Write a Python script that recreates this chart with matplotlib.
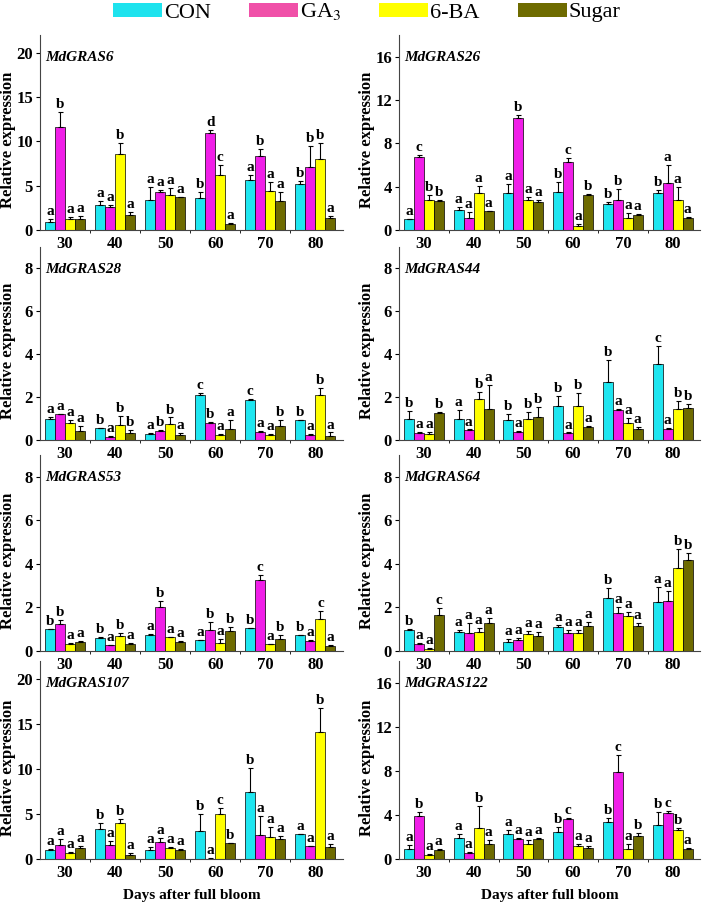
import numpy as np
import matplotlib.pyplot as plt
from matplotlib.patches import Patch

days = ['30', '40', '50', '60', '70', '80']
treatments = ['CON', 'GA$_3$', '6-BA', 'Sugar']
bar_colors = ['#1EE6F0', '#F01EE8', '#FFFF00', '#6E6B00']
legend_colors = ['#1EE3EE', '#F050A8', '#FFFF00', '#6E6B00']

# mean values, rows = day, columns = CON, GA3, 6-BA, Sugar
gras6 = [[0.87, 11.57, 1.25, 1.25], [2.85, 2.55, 8.6, 1.67], [3.42, 4.3, 4.0, 3.68],
         [3.6, 10.9, 6.2, 0.7], [5.6, 8.4, 4.4, 3.3], [5.24, 7.13, 7.97, 1.4]]
gras6_err = [[0.33, 1.79, 0.2, 0.35], [0.45, 0.3, 1.2, 0.33], [1.38, 0.25, 0.75, 0.05],
             [0.65, 0.4, 1.16, 0.06], [0.66, 0.7, 1.03, 0.95], [0.26, 2.37, 1.83, 0.2]]
gras6_sig = [['a', 'b', 'a', 'a'], ['a', 'a', 'b', 'a'], ['a', 'a', 'a', 'a'],
             ['b', 'd', 'c', 'a'], ['a', 'b', 'a', 'a'], ['b', 'b', 'b', 'a']]

gras26 = [[0.98, 6.77, 2.74, 2.68], [1.85, 1.14, 3.38, 1.72], [3.42, 10.34, 2.74, 2.6],
          [3.48, 6.3, 0.4, 3.26], [2.4, 2.77, 1.1, 1.38], [3.42, 4.3, 2.77, 1.1]]
gras26_err = [[0.07, 0.18, 0.52, 0.12], [0.25, 0.49, 0.65, 0.06], [0.86, 0.26, 0.34, 0.17],
              [0.98, 0.35, 0.2, 0.04], [0.2, 0.98, 0.5, 0.07], [0.28, 1.7, 1.17, 0.07]]
gras26_sig = [['a', 'c', 'b', 'b'], ['a', 'a', 'a', 'a'], ['a', 'b', 'a', 'a'],
              ['b', 'c', 'a', 'b'], ['b', 'b', 'a', 'a'], ['b', 'a', 'a', 'a']]

gras28 = [[1.0, 1.2, 0.77, 0.42], [0.54, 0.15, 0.72, 0.31], [0.28, 0.43, 0.74, 0.23],
          [2.1, 0.8, 0.23, 0.5], [1.85, 0.38, 0.23, 0.65], [0.92, 0.25, 2.1, 0.2]]
gras28_err = [[0.06, 0.03, 0.18, 0.24], [0.03, 0.03, 0.38, 0.15], [0.03, 0.03, 0.31, 0.09],
              [0.1, 0.05, 0.05, 0.44], [0.07, 0.02, 0.05, 0.3], [0.03, 0.01, 0.33, 0.15]]
gras28_sig = [['a', 'a', 'a', 'a'], ['b', 'a', 'b', 'b'], ['a', 'b', 'b', 'a'],
              ['c', 'b', 'a', 'a'], ['c', 'a', 'a', 'b'], ['b', 'a', 'b', 'a']]

gras44 = [[1.0, 0.32, 0.26, 1.26], [0.97, 0.48, 1.89, 1.43], [0.95, 0.35, 0.97, 1.06],
          [1.58, 0.34, 1.57, 0.6], [2.7, 1.38, 0.8, 0.52], [3.54, 0.49, 1.45, 1.5]]
gras44_err = [[0.35, 0.06, 0.12, 0.06], [0.41, 0.01, 0.36, 1.12], [0.25, 0.05, 0.33, 0.48],
              [0.47, 0.01, 0.63, 0.06], [1.04, 0.05, 0.22, 0.1], [0.86, 0.06, 0.37, 0.2]]
gras44_sig = [['b', 'a', 'a', 'b'], ['a', 'a', 'b', 'a'], ['b', 'a', 'b', 'b'],
              ['b', 'a', 'b', 'a'], ['b', 'a', 'a', 'a'], ['c', 'a', 'b', 'b']]

gras53 = [[1.0, 1.23, 0.31, 0.4], [0.61, 0.26, 0.7, 0.32], [0.75, 2.04, 0.63, 0.43],
          [0.49, 0.98, 0.38, 0.93], [1.04, 3.25, 0.31, 0.57], [0.72, 0.44, 1.46, 0.25]]
gras53_err = [[0.01, 0.21, 0.04, 0.06], [0.02, 0.03, 0.14, 0.05], [0.02, 0.26, 0.01, 0.03],
              [0.01, 0.35, 0.16, 0.16], [0.02, 0.24, 0.03, 0.18], [0.02, 0.08, 0.36, 0.03]]
gras53_sig = [['b', 'b', 'a', 'a'], ['b', 'a', 'b', 'a'], ['a', 'b', 'a', 'a'],
              ['a', 'b', 'a', 'b'], ['b', 'c', 'a', 'b'], ['b', 'a', 'c', 'a']]

gras64 = [[0.98, 0.31, 0.11, 1.66], [0.86, 0.81, 0.89, 1.3], [0.43, 0.51, 0.8, 0.7],
          [1.12, 0.83, 0.81, 1.15], [2.42, 1.75, 1.61, 1.16], [2.27, 2.28, 3.8, 4.18]]
gras64_err = [[0.03, 0.04, 0.01, 0.3], [0.12, 0.49, 0.18, 0.23], [0.12, 0.1, 0.1, 0.16],
              [0.06, 0.15, 0.16, 0.18], [0.49, 0.29, 0.2, 0.14], [0.69, 0.46, 0.87, 0.31]]
gras64_sig = [['b', 'a', 'a', 'c'], ['a', 'a', 'a', 'a'], ['a', 'a', 'a', 'a'],
              ['a', 'a', 'a', 'a'], ['b', 'a', 'a', 'a'], ['a', 'a', 'b', 'b']]

gras107 = [[1.02, 1.58, 0.71, 1.2], [3.35, 1.58, 3.95, 0.41], [1.02, 1.84, 1.24, 1.05],
           [3.16, 0.04, 5.04, 1.73], [7.48, 2.63, 2.4, 2.18], [2.74, 1.43, 14.14, 1.28]]
gras107_err = [[0.11, 0.68, 0.08, 0.23], [0.67, 0.41, 0.45, 0.23], [0.3, 0.53, 0.11, 0.08],
               [1.8, 0.04, 0.67, 0.07], [2.6, 2.18, 1.21, 0.38], [0.08, 0.04, 2.59, 0.41]]
gras107_sig = [['a', 'a', 'a', 'a'], ['b', 'a', 'b', 'a'], ['a', 'a', 'a', 'a'],
               ['b', 'a', 'c', 'b'], ['b', 'a', 'a', 'a'], ['a', 'a', 'b', 'a']]

gras122 = [[0.94, 3.9, 0.34, 0.79], [1.89, 0.52, 2.84, 1.37], [2.29, 1.83, 1.37, 1.8],
           [2.5, 3.63, 1.19, 0.98], [3.32, 7.87, 0.94, 2.13], [3.11, 4.21, 2.62, 0.88]]
gras122_err = [[0.34, 0.37, 0.09, 0.09], [0.37, 0.09, 1.98, 0.37], [0.36, 0.06, 0.37, 0.12],
               [0.37, 0.06, 0.15, 0.24], [0.4, 1.58, 0.4, 0.19], [1.16, 0.15, 0.18, 0.12]]
gras122_sig = [['a', 'b', 'a', 'a'], ['a', 'a', 'b', 'a'], ['a', 'a', 'a', 'a'],
               ['b', 'c', 'a', 'a'], ['b', 'c', 'a', 'b'], ['b', 'c', 'b', 'a']]

panels = [
    ('MdGRAS6', gras6, gras6_err, gras6_sig, 22, [0, 5, 10, 15, 20]),
    ('MdGRAS26', gras26, gras26_err, gras26_sig, 18, [0, 4, 8, 12, 16]),
    ('MdGRAS28', gras28, gras28_err, gras28_sig, 9, [0, 2, 4, 6, 8]),
    ('MdGRAS44', gras44, gras44_err, gras44_sig, 9, [0, 2, 4, 6, 8]),
    ('MdGRAS53', gras53, gras53_err, gras53_sig, 9, [0, 2, 4, 6, 8]),
    ('MdGRAS64', gras64, gras64_err, gras64_sig, 9, [0, 2, 4, 6, 8]),
    ('MdGRAS107', gras107, gras107_err, gras107_sig, 22, [0, 5, 10, 15, 20]),
    ('MdGRAS122', gras122, gras122_err, gras122_sig, 18, [0, 4, 8, 12, 16]),
]

plt.rcParams['font.family'] = ['Liberation Serif', 'DejaVu Serif']
plt.rcParams['mathtext.fontset'] = 'stix'

W, H = 708, 906
fig = plt.figure(figsize=(W / 100, H / 100), dpi=100)

# pixel boxes: left, top, right, bottom
cols = [(40, 343), (399, 700)]
rows = [(35, 230), (247, 440), (455, 651), (661, 859)]

x = np.arange(len(days))
bw = 0.2

for k, (name, vals, errs, sigs, ymax, yt) in enumerate(panels):
    r, c = divmod(k, 2)
    l, rt = cols[c]
    t, b = rows[r]
    ax = fig.add_axes([l / W, 1 - b / H, (rt - l) / W, (b - t) / H])
    ax.patch.set_visible(False)
    vals = np.array(vals)
    errs = np.array(errs)
    for j in range(4):
        xs = x + (j - 1.5) * bw
        ax.bar(xs, vals[:, j], bw, color=bar_colors[j], edgecolor='black', linewidth=0.5,
               yerr=[np.zeros(len(days)), errs[:, j]], ecolor='black',
               error_kw=dict(elinewidth=0.8, capsize=1.8, capthick=0.8))
        for i in range(len(days)):
            ax.text(xs[i], vals[i, j] + errs[i, j] + ymax * 0.005, sigs[i][j],
                    ha='center', va='bottom', fontsize=11, fontweight='bold')
    ax.set_xlim(-0.5, 5.55)
    ax.set_ylim(0, ymax)
    ax.set_yticks(yt)
    ax.set_xticks(x)
    ax.set_xticklabels(days)
    ax.set_xticks(x[:-1] + 0.5, minor=True)
    ax.tick_params(axis='x', which='major', length=0, pad=4, labelsize=12)
    ax.tick_params(axis='x', which='minor', length=2, direction='out', width=0.6)
    ax.tick_params(axis='y', length=3, width=0.8, pad=2, labelsize=12)
    for lab in ax.get_xticklabels() + ax.get_yticklabels():
        lab.set_fontweight('bold')
    ax.spines['top'].set_visible(False)
    ax.spines['right'].set_visible(False)
    ax.spines['left'].set_color('#444444')
    ax.spines['bottom'].set_color('#444444')
    ax.set_ylabel('Relative expression', fontsize=12, fontweight='bold')
    ax.yaxis.set_label_coords(-0.08, 0.46)
    ax.text(0.017, 0.885, name, transform=ax.transAxes, fontsize=11,
            fontweight='bold', fontstyle='italic', va='center', ha='left')
    if r == 3:
        ax.set_xlabel('Days after full bloom', fontsize=11, fontweight='bold', labelpad=6)

handles = [Patch(facecolor=legend_colors[j], edgecolor='none', label=treatments[j]) for j in range(4)]
fig.legend(handles=handles, loc='center', bbox_to_anchor=(367 / W, 1 - 12 / H), ncol=4,
           frameon=False, fontsize=16, handlelength=2.2, handleheight=0.6,
           handletextpad=0.1, columnspacing=1.7, borderpad=0)

fig.savefig('out.png', dpi=100)
